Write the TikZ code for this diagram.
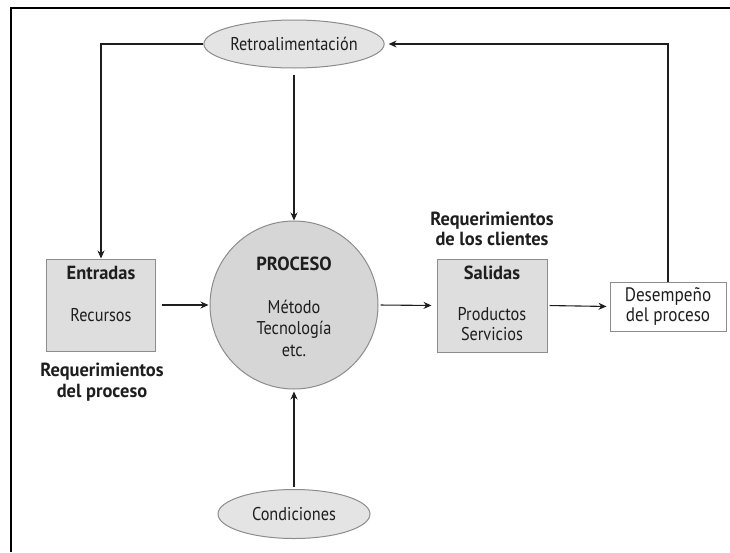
\documentclass[tikz,border=0pt]{standalone}
\usepackage{fontspec}
\setmainfont{PT Sans}[FakeStretch=0.88, BoldFeatures={FakeStretch=0.97}]
\usetikzlibrary{shapes.geometric,arrows.meta}
\definecolor{boxfill}{HTML}{DEDEDE}
\definecolor{circfill}{HTML}{D6D6D6}
\definecolor{ellfill}{HTML}{E4E4E4}
\definecolor{edge}{HTML}{8C8C8C}
\definecolor{ink}{HTML}{1E1E1E}
\tikzset{
  graybox/.style={draw=edge, fill=boxfill, line width=1pt, minimum width=109pt, minimum height=92pt},
  whitebox/.style={draw=edge, fill=white, line width=1pt, minimum width=116pt, minimum height=49pt, align=center, font=\fontsize{19.5}{20.5}\selectfont, text=ink, inner sep=0pt},
  ellnode/.style={ellipse, draw=edge, fill=ellfill, line width=1pt, minimum width=152pt, minimum height=48pt, inner sep=0pt, font=\fontsize{18.5}{20}\selectfont, text=ink},
  lbl/.style={font=\fontsize{18.5}{21}\selectfont, text=ink, inner sep=0pt, align=center},
  blbl/.style={font=\bfseries\fontsize{19}{20.5}\selectfont, text=ink, inner sep=0pt, align=center},
  arr/.style={draw=ink, line width=1.1pt, -{Stealth[length=8pt,width=7pt]}},
  ln/.style={draw=ink, line width=1.1pt}
}
\begin{document}
\begin{tikzpicture}[x=1pt,y=-1pt]
\useasboundingbox (0,0) rectangle (730,552);
\draw[line width=2.2pt, black] (11,552) -- (11,8) -- (730,8);

\node[ellnode] (retro) at (294,44) {Retroalimentación};
\node[graybox] (entradas) at (101,305) {};
\node[circle, draw=edge, fill=circfill, line width=1pt, minimum size=168pt] (proceso) at (294,305) {};
\node[graybox, minimum width=110pt, minimum height=93pt] (salidas) at (492,305.5) {};
\node[whitebox] (desem) at (668,306.5) {Desempeño\\del proceso};
\node[ellnode, minimum height=49pt] (cond) at (294,514) {Condiciones};

\node[blbl] (entT) at (101,273) {Entradas};
\node[lbl] (entR) at (101,315) {Recursos};
\node[blbl] (procT) at (294,264) {PROCESO};
\node[lbl, font=\fontsize{18.5}{21.5}\selectfont] (procR) at (294,328) {Método\\Tecnología\\etc.};
\node[blbl] (salT) at (492,273) {Salidas};
\node[lbl, font=\fontsize{18.5}{20}\selectfont] (salR) at (492,324) {Productos\\Servicios};
\node[blbl] (reqP) at (102,382) {Requerimientos\\del proceso};
\node[blbl] (reqC) at (492,229) {Requerimientos\\de los clientes};

\draw[arr] (retro.west) -| (entradas.north);
\draw[arr, shorten <=6pt] (retro.south) -- (proceso.north);
\draw[arr, shorten >=4pt] (desem.north) |- (retro.east);
\draw[arr, shorten <=6pt, shorten >=1pt] (entradas.east) -- (proceso.west);
\draw[arr, shorten <=2pt, shorten >=5pt] (proceso.east) -- (salidas.west);
\draw[arr, shorten <=2pt, shorten >=3pt] (salidas.east) -- (desem.west);
\draw[arr, shorten <=2pt, shorten >=2pt] (cond.north) -- (proceso.south);
\end{tikzpicture}
\end{document}
